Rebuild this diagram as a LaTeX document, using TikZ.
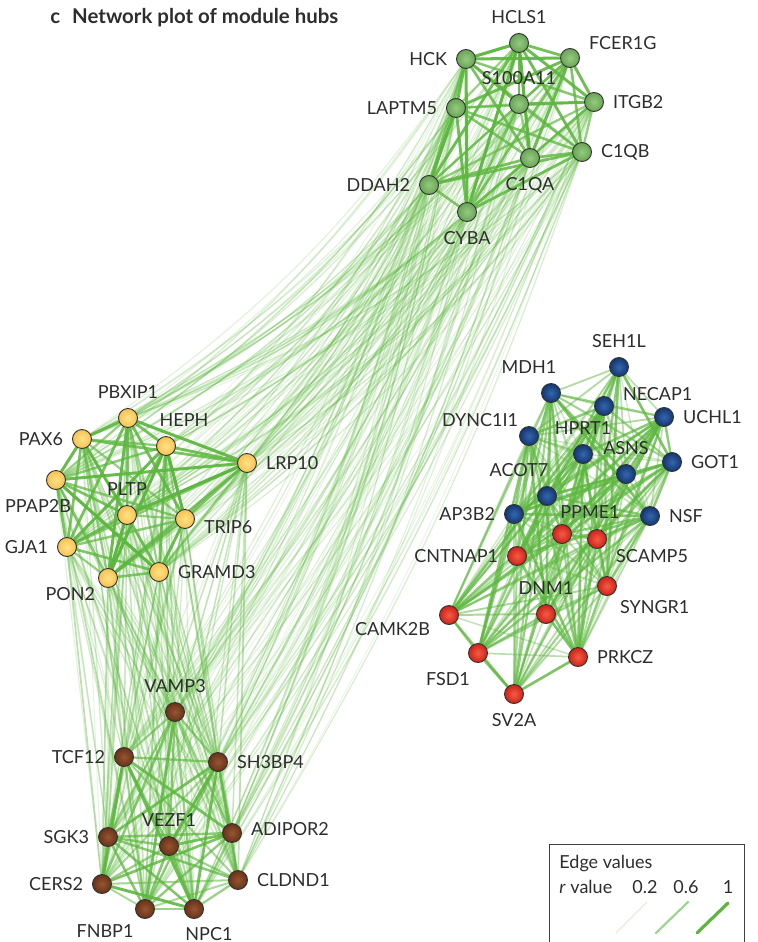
\documentclass[tikz,border=0pt]{standalone}
\usepackage{fontspec}
\setmainfont{Lato}
\pgfdeclarelayer{bg}
\pgfsetlayers{bg,main}

\definecolor{edgegreen}{RGB}{92,182,62}
\definecolor{labelgray}{RGB}{45,45,45}
\definecolor{greenin}{RGB}{150,202,128}
\definecolor{greenout}{RGB}{104,164,86}
\definecolor{yellowin}{RGB}{255,226,135}
\definecolor{yellowout}{RGB}{246,194,82}
\definecolor{brownin}{RGB}{150,86,50}
\definecolor{brownout}{RGB}{104,50,24}
\definecolor{bluein}{RGB}{52,102,172}
\definecolor{blueout}{RGB}{20,54,112}
\definecolor{redin}{RGB}{246,92,70}
\definecolor{redout}{RGB}{204,34,24}

\newcommand\greenhubs{HCK,HCLS1,FCER1G,S100A11,LAPTM5,ITGB2,C1QB,C1QA,DDAH2,CYBA}
\newcommand\yellowhubs{PBXIP1,PAX6,HEPH,LRP10,PPAP2B,PLTP,TRIP6,GJA1,GRAMD3,PON2}
\newcommand\brownhubs{VAMP3,TCF12,SH3BP4,SGK3,VEZF1,ADIPOR2,CERS2,CLDND1,FNBP1,NPC1}
\newcommand\bluredhubs{SEH1L,MDH1,NECAP1,UCHL1,DYNC1I1,HPRT1,ASNS,GOT1,ACOT7,AP3B2,NSF,%
  PPME1,SCAMP5,CNTNAP1,SYNGR1,DNM1,CAMK2B,FSD1,PRKCZ,SV2A}

\begin{document}
\begin{tikzpicture}[x=0.5pt, y=-0.5pt, font=\fontsize{9}{11}\selectfont, text=labelgray,
  label distance=1pt,
  hub/.style={circle, draw=black!80, line width=0.45pt, minimum size=9.5pt, inner sep=0pt},
  ghub/.style={hub, inner color=greenin, outer color=greenout},
  yhub/.style={hub, inner color=yellowin, outer color=yellowout},
  bhub/.style={hub, inner color=brownin, outer color=brownout},
  nhub/.style={hub, inner color=bluein, outer color=blueout},
  rhub/.style={hub, inner color=redin, outer color=redout},
  rval/.style={draw=edgegreen, line cap=round, line width=0.3pt+1.3pt*#1, draw opacity=#1}]
\useasboundingbox (0,0) rectangle (758,942);
\pgfmathsetseed{42}

% --- title ---
\node[anchor=base west, inner sep=0pt, font=\bfseries\fontsize{10.2}{12}\selectfont] (title) at (50,24)
  {c\hspace{6pt}Network plot of module hubs};

% --- green module ---
\node[ghub, label=left:HCK] (HCK) at (466,59) {};
\node[ghub, label=above:HCLS1] (HCLS1) at (519,43) {};
\node[ghub, label={[yshift=7.5pt]right:FCER1G}] (FCER1G) at (570,58) {};
\node[ghub, label=above:S100A11] (S100A11) at (519,104) {};
\node[ghub, label=left:LAPTM5] (LAPTM5) at (456,108) {};
\node[ghub, label=right:ITGB2] (ITGB2) at (594,102) {};
\node[ghub, label=right:C1QB] (C1QB) at (582,152) {};
\node[ghub, label=below:C1QA] (C1QA) at (530,158) {};
\node[ghub, label=left:DDAH2] (DDAH2) at (429,185) {};
\node[ghub, label=below:CYBA] (CYBA) at (467,212) {};

% --- yellow module ---
\node[yhub, label=above:PBXIP1] (PBXIP1) at (128,418) {};
\node[yhub, label=left:PAX6] (PAX6) at (82,439) {};
\node[yhub, label={[xshift=9pt]above:HEPH}] (HEPH) at (166,446) {};
\node[yhub, label=right:LRP10] (LRP10) at (247,463) {};
\node[yhub, label={[xshift=-9pt]below:PPAP2B}] (PPAP2B) at (56,480) {};
\node[yhub, label=above:PLTP] (PLTP) at (127,515) {};
\node[yhub, label={[yshift=-4pt]right:TRIP6}] (TRIP6) at (185,519) {};
\node[yhub, label=left:GJA1] (GJA1) at (67,547) {};
\node[yhub, label=right:GRAMD3] (GRAMD3) at (159,572) {};
\node[yhub, label={[xshift=3pt, yshift=-8pt]left:PON2}] (PON2) at (108,578) {};

% --- brown module ---
\node[bhub, label=above:VAMP3] (VAMP3) at (175,712) {};
\node[bhub, label=left:TCF12] (TCF12) at (124,757) {};
\node[bhub, label=right:SH3BP4] (SH3BP4) at (218,762) {};
\node[bhub, label=left:SGK3] (SGK3) at (108,837) {};
\node[bhub, label=above:VEZF1] (VEZF1) at (169,846) {};
\node[bhub, label={[yshift=2pt]right:ADIPOR2}] (ADIPOR2) at (232,833) {};
\node[bhub, label=left:CERS2] (CERS2) at (102,884) {};
\node[bhub, label=right:CLDND1] (CLDND1) at (238,880) {};
\node[bhub, label={[xshift=-20pt, yshift=1.5pt]below:FNBP1}] (FNBP1) at (145,909) {};
\node[bhub, label={[xshift=7.5pt, yshift=0.5pt]below:NPC1}] (NPC1) at (194,909) {};

% --- blue module ---
\node[nhub, label=above:SEH1L] (SEH1L) at (619,367) {};
\node[nhub, label={[xshift=-11pt]above:MDH1}] (MDH1) at (551,393) {};
\node[nhub, label={[yshift=6pt]right:NECAP1}] (NECAP1) at (604,406) {};
\node[nhub, label=right:UCHL1] (UCHL1) at (664,417) {};
\node[nhub, label={[xshift=4pt, yshift=8pt]left:DYNC1I1}] (DYNC1I1) at (529,436) {};
\node[nhub, label=above:HPRT1] (HPRT1) at (583,454) {};
\node[nhub, label=above:ASNS] (ASNS) at (626,474) {};
\node[nhub, label=right:GOT1] (GOT1) at (672,462) {};
\node[nhub, label={[xshift=-14pt]above:ACOT7}] (ACOT7) at (547,496) {};
\node[nhub, label=left:AP3B2] (AP3B2) at (514,514) {};
\node[nhub, label=right:NSF] (NSF) at (650,516) {};

% --- red module ---
\node[rhub, label={[xshift=14pt, yshift=-2pt]above:PPME1}] (PPME1) at (562,534) {};
\node[rhub, label={[yshift=-8.5pt]right:SCAMP5}] (SCAMP5) at (597,539) {};
\node[rhub, label=left:CNTNAP1] (CNTNAP1) at (517,556) {};
\node[rhub, label={[xshift=-3pt, yshift=-10.5pt]right:SYNGR1}] (SYNGR1) at (607,586) {};
\node[rhub, label=above:DNM1] (DNM1) at (546,614) {};
\node[rhub, label={[yshift=-7pt]left:CAMK2B}] (CAMK2B) at (449,615) {};
\node[rhub, label={[xshift=-15pt]below:FSD1}] (FSD1) at (478,653) {};
\node[rhub, label=right:PRKCZ] (PRKCZ) at (578,657) {};
\node[rhub, label=below:SV2A] (SV2A) at (514,694) {};

% --- edges, under the hubs ---
\begin{pgfonlayer}{bg}
% between modules: weak
\foreach \a in \greenhubs {
  \foreach \b in \yellowhubs {
    \pgfmathsetmacro\w{0.12+0.22*rnd}
    \draw[rval=\w] (\a) to[bend left=10] (\b);
  }
  \foreach \b in \brownhubs {
    \pgfmathsetmacro\w{0.12+0.2*rnd}
    \draw[rval=\w] (\a) to[bend left=6] (\b);
  }
}
\foreach \a in \yellowhubs {
  \foreach \b in \brownhubs {
    \pgfmathsetmacro\w{0.15+0.3*rnd}
    \draw[rval=\w] (\a) -- (\b);
  }
}
% within modules: strong
\foreach \a [count=\i] in \greenhubs {
  \foreach \b [count=\j] in \greenhubs {
    \ifnum\i<\j
      \pgfmathsetmacro\w{0.6+0.4*rnd}
      \draw[rval=\w] (\a) -- (\b);
    \fi
  }
}
\foreach \a [count=\i] in \yellowhubs {
  \foreach \b [count=\j] in \yellowhubs {
    \ifnum\i<\j
      \pgfmathsetmacro\w{0.6+0.4*rnd}
      \draw[rval=\w] (\a) -- (\b);
    \fi
  }
}
\foreach \a [count=\i] in \brownhubs {
  \foreach \b [count=\j] in \brownhubs {
    \ifnum\i<\j
      \pgfmathsetmacro\w{0.5+0.4*rnd}
      \draw[rval=\w] (\a) -- (\b);
    \fi
  }
}
\foreach \a [count=\i] in \bluredhubs {
  \foreach \b [count=\j] in \bluredhubs {
    \ifnum\i<\j
      \pgfmathsetmacro\w{0.3+0.5*rnd}
      \draw[rval=\w] (\a) -- (\b);
    \fi
  }
}
\end{pgfonlayer}

% --- legend ---
\draw[black!75, line width=0.5pt] (549,946) |- (744,844) -- (744,946);
\node[anchor=base west, inner sep=0pt] (legtitle) at (559,868) {Edge values};
\node[anchor=base west, inner sep=0pt] (legr) at (559,893) {\textit{r} value};
\node[anchor=base, inner sep=0pt] (leglow) at (645,893) {0.2};
\node[anchor=base, inner sep=0pt] (legmid) at (686,893) {0.6};
\node[anchor=base, inner sep=0pt] (leghigh) at (728,893) {1};
\coordinate (lowa) at (616,933);  \coordinate (lowb) at (647,902);
\coordinate (mida) at (656,933);  \coordinate (midb) at (688,902);
\coordinate (higha) at (697,933); \coordinate (highb) at (728,903);
\draw[rval=0.2] (lowa) -- (lowb);
\draw[rval=0.6] (mida) -- (midb);
\draw[rval=1] (higha) -- (highb);
\end{tikzpicture}
\end{document}
